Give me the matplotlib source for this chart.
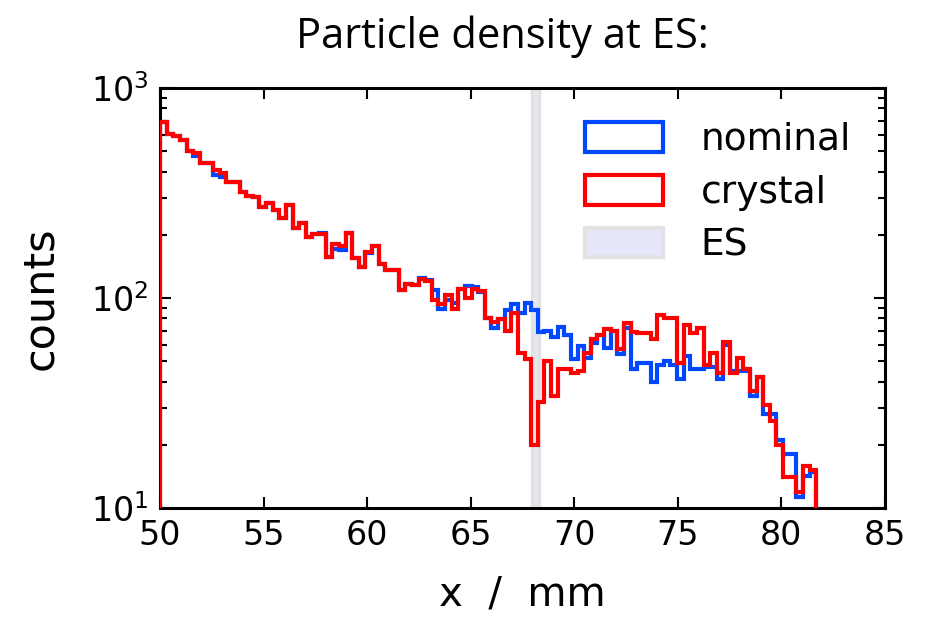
# Particle density at ES: step histograms nominal vs crystal

import matplotlib
matplotlib.use("Agg")
import matplotlib.pyplot as plt
import numpy as np
from matplotlib.patches import Patch

# --------------------------------------------------------------------
# Data (100 bins between 50 and 82 mm)
# --------------------------------------------------------------------

X_MIN, X_MAX, N_BINS = 50.0, 82.0, 100

nominal = [
    691, 602, 593, 565, 501, 475, 438, 438, 385, 376,
    358, 358, 321, 306, 302, 270, 282, 262, 240, 277,
    215, 227, 196, 202, 204, 157, 171, 169, 205, 155,
    141, 164, 177, 145, 136, 136, 109, 117, 115, 124,
    122, 109, 89, 98, 95, 110, 114, 113, 107, 80,
    72, 79, 88, 94, 85, 95, 88, 69, 70, 65,
    73, 67, 51, 59, 52, 61, 67, 58, 70, 54,
    72, 46, 49, 49, 40, 48, 50, 48, 41, 53,
    46, 46, 47, 47, 41, 60, 45, 45, 45, 34,
    42, 28, 28, 21, 18, 18, 11.3, 14.2, 14.8, 0,
]

crystal = [
    691, 602, 593, 565, 501, 492, 438, 438, 407, 393,
    358, 358, 321, 306, 302, 270, 282, 262, 240, 277,
    215, 227, 196, 202, 202, 157, 181, 176, 205, 155,
    141, 165, 177, 145, 136, 136, 109, 117, 115, 123,
    120, 98, 94, 103, 89, 110, 100, 110, 108, 80,
    77, 79, 70, 85, 55, 51, 20, 32, 50, 34,
    46, 46, 44, 45, 55, 64, 67, 71, 70, 57,
    76, 69, 68, 68, 64, 83, 80, 80, 49, 74,
    68, 72, 48, 55, 44, 62, 44, 52, 46, 36,
    42, 31, 26, 20, 14, 14, 11.9, 15.8, 15.2, 0,
]

# position of the ES (mm)
es_band = (67.98, 68.32)

BLUE = "#0048ff"
RED = "#ff0000"
ES_EDGE = "#e2e2e4"


def main():
    edges = np.linspace(X_MIN, X_MAX, N_BINS + 1)

    fig = plt.figure(figsize=(9.26, 6.22), dpi=100)
    ax = fig.add_axes([0.1728, 0.1833, 0.7829, 0.6752])

    ax.axvspan(*es_band, facecolor="#e6e6ee", edgecolor=ES_EDGE,
               lw=2.5, zorder=1)

    floor = 0.1
    nom = np.where(np.array(nominal) > 0, nominal, floor)
    cry = np.where(np.array(crystal) > 0, crystal, floor)
    ax.stairs(nom, edges, baseline=floor, color=BLUE, lw=3, zorder=2)
    ax.stairs(cry, edges, baseline=floor, color=RED, lw=3, zorder=3)

    ax.set_yscale("log")
    ax.set_xlim(50, 85)
    ax.set_ylim(10, 1000)
    ax.set_xticks(np.arange(50, 86, 5))

    for s in ax.spines.values():
        s.set_linewidth(2.2)
    ax.tick_params(which="both", direction="in", top=True, right=True,
                   labelsize=24, width=1.5)
    ax.tick_params(which="major", length=8, pad=8)
    ax.tick_params(which="minor", length=5)

    ax.set_xlabel("x  /  mm", fontsize=29, labelpad=16)
    ax.set_ylabel("counts", fontsize=31, labelpad=22)
    fig.suptitle("Particle density at ES:", fontsize=30, x=0.542, y=0.975,
                 fontfamily="Open Sans")

    handles = [
        Patch(facecolor="white", edgecolor=BLUE, lw=3, label="nominal"),
        Patch(facecolor="white", edgecolor=RED, lw=3, label="crystal"),
        Patch(facecolor="lavender", edgecolor=ES_EDGE, lw=3, label="ES"),
    ]
    ax.legend(handles=handles, loc="upper right", frameon=False,
              fontsize=27, handlelength=2.1, handleheight=0.85,
              handletextpad=1.0, borderaxespad=0.5, labelspacing=0.45)

    fig.savefig("out.png", dpi=100)


if __name__ == "__main__":
    main()
